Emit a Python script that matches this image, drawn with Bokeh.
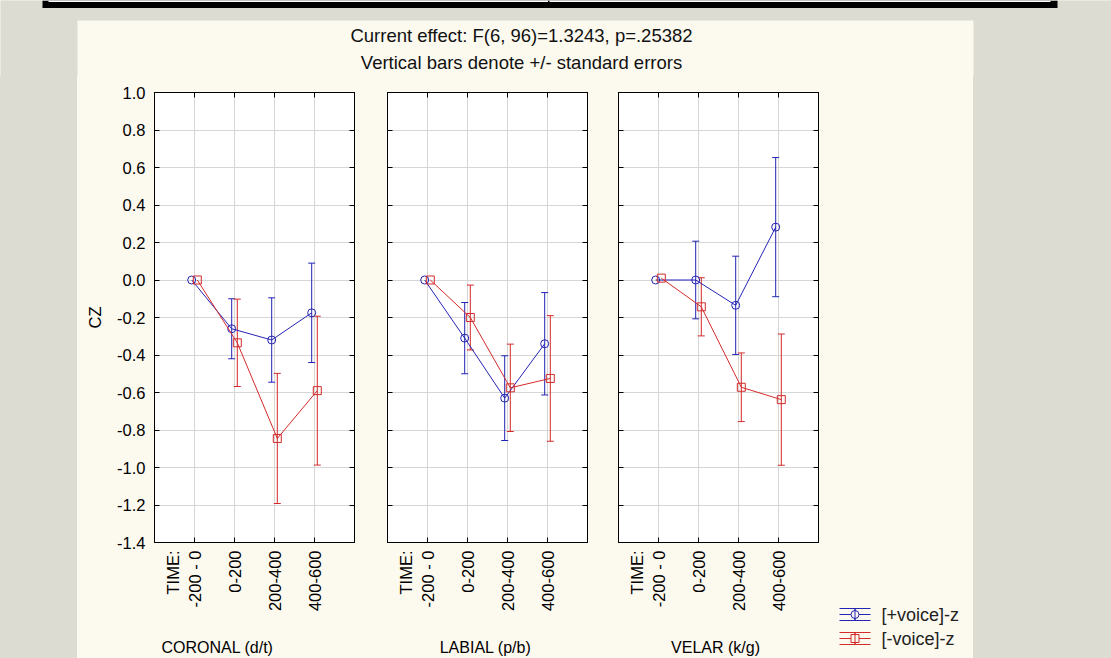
import math

from bokeh.embed import file_html
from bokeh.layouts import column, row
from bokeh.models import (ColumnDataSource, FixedTicker, Label, LinearAxis,
                          PrintfTickFormatter, Range1d, Spacer, TeeHead, Whisker)
from bokeh.plotting import figure
from bokeh.resources import INLINE

# ---------------------------------------------------------------- data
time_labels = ["TIME:\n-200 - 0", "0-200", "200-400", "400-600"]
place_labels = ["CORONAL (d/t)", "LABIAL (p/b)", "VELAR (k/g)"]
series_labels = ["[+voice]-z", "[-voice]-z"]
y_ticks = [-1.4, -1.2, -1.0, -0.8, -0.6, -0.4, -0.2, 0.0, 0.2, 0.4, 0.6, 0.8, 1.0]

coronal_plus_mean = [0.0, -0.26, -0.32, -0.175]
coronal_plus_se = [0.0, 0.16, 0.225, 0.265]
coronal_minus_mean = [0.0, -0.335, -0.845, -0.59]
coronal_minus_se = [0.0, 0.233, 0.347, 0.397]

labial_plus_mean = [0.0, -0.31, -0.63, -0.34]
labial_plus_se = [0.0, 0.19, 0.226, 0.273]
labial_minus_mean = [0.0, -0.20, -0.575, -0.525]
labial_minus_se = [0.0, 0.173, 0.233, 0.335]

velar_plus_mean = [0.0, 0.0, -0.135, 0.282]
velar_plus_se = [0.0, 0.207, 0.262, 0.371]
velar_minus_mean = [0.01, -0.143, -0.572, -0.638]
velar_minus_se = [0.0, 0.155, 0.183, 0.35]

title_lines = ["Current effect: F(6, 96)=1.3243, p=.25382",
               "Vertical bars denote +/- standard errors"]
y_label = "CZ"

# ---------------------------------------------------------------- styles
FONT = "Liberation Sans"
GRAY = "#dcdcd2"
CREAM = "#fcf9ef"
BLUE = "#2424b4"
RED = "#d42a2a"
GRID = "#d6d6d6"
COLORS = [BLUE, RED]
MARKERS = ["circle", "square"]
DODGE = 0.07

PAGE_W, PAGE_H = 1111, 658
HEAD_H = 76          # header strip (frame edge + titles)
FOOT_H = 46          # strip holding the place names
LEFT_GAP = 77        # gray margin on the left
KEY_W = 143          # legend column
PANEL_H = PAGE_H - HEAD_H - FOOT_H

panel_data = [
    (coronal_plus_mean, coronal_plus_se, coronal_minus_mean, coronal_minus_se),
    (labial_plus_mean, labial_plus_se, labial_minus_mean, labial_minus_se),
    (velar_plus_mean, velar_plus_se, velar_minus_mean, velar_minus_se),
]
# (left border, right border) of each panel, frames are 200 x 450 px
panel_borders = [(77, 16), (17, 15), (16, 12)]
# horizontal centre of each place name, page pixels
place_x = [217, 485, 715]
x_pos = [1, 2, 3, 4]


def quiet_axis(ticks):
    # tick marks only, pointing into the frame
    return LinearAxis(ticker=FixedTicker(ticks=ticks), major_tick_in=5, major_tick_out=0,
                      minor_tick_line_color=None, major_label_text_font_size="1px",
                      major_label_text_color=None, major_label_standoff=0,
                      axis_line_color="black")


def add_series(p, means, ses, shift, color, marker):
    xs = [x + shift for x in x_pos]
    src = ColumnDataSource(dict(x=xs, y=means))
    keep = [i for i, s in enumerate(ses) if s > 0]
    err = ColumnDataSource(dict(
        x=[xs[i] for i in keep],
        upper=[means[i] + ses[i] for i in keep],
        lower=[means[i] - ses[i] for i in keep]))
    p.add_layout(Whisker(source=err, base="x", upper="upper", lower="lower",
                         dimension="height", line_color=color, line_width=1,
                         upper_head=TeeHead(size=7, line_color=color, line_width=1),
                         lower_head=TeeHead(size=7, line_color=color, line_width=1)))
    p.line("x", "y", source=src, line_color=color, line_width=1)
    p.scatter("x", "y", source=src, marker=marker, size=8, fill_color=None,
              line_color=color, line_width=1)


def blank(width, height, x_range, y_range, fill=CREAM):
    f = figure(width=width, height=height, x_range=Range1d(*x_range),
               y_range=Range1d(*y_range), output_backend="svg", toolbar_location=None,
               x_axis_type=None, y_axis_type=None, min_border=0, outline_line_color=None,
               background_fill_color=fill, border_fill_color=fill)
    f.grid.visible = False
    return f


panels = []
for k, (pm, ps, mm, ms) in enumerate(panel_data):
    left, right = panel_borders[k]
    p = figure(frame_width=200, frame_height=450, x_range=Range1d(0, 5),
               y_range=Range1d(-1.4, 1.0), output_backend="svg", toolbar_location=None,
               min_border_left=left, min_border_right=right, min_border_top=16,
               min_border_bottom=PANEL_H - 16 - 450, background_fill_color="white",
               border_fill_color=CREAM, outline_line_color="black")

    overrides = {}
    for x, t in zip(x_pos, time_labels):
        # a blank trailing line keeps the two-line label left of its tick
        overrides[x] = t + "\n" if "\n" in t else t
    p.xaxis.ticker = FixedTicker(ticks=x_pos)
    p.xaxis.major_label_overrides = overrides
    p.xaxis.major_label_orientation = math.pi / 2
    p.xaxis.major_label_standoff = 8
    p.xaxis.major_label_text_font = FONT
    p.xaxis.major_label_text_font_size = "16.5px"
    p.xaxis.major_label_text_color = "black"

    p.yaxis.ticker = FixedTicker(ticks=y_ticks)
    p.yaxis.formatter = PrintfTickFormatter(format="%.1f")
    for ax in (p.xaxis, p.yaxis):
        ax.major_tick_in = 5
        ax.major_tick_out = 0
        ax.minor_tick_line_color = None
        ax.axis_line_color = "black"
    if k == 0:
        p.yaxis.major_label_standoff = 9
        p.yaxis.major_label_text_font = FONT
        p.yaxis.major_label_text_font_size = "16.5px"
        p.yaxis.major_label_text_color = "black"
        p.yaxis.axis_label = y_label
        p.yaxis.axis_label_text_font = FONT
        p.yaxis.axis_label_text_font_size = "16.5px"
        p.yaxis.axis_label_text_font_style = "normal"
        p.yaxis.axis_label_text_color = "black"
        p.yaxis.axis_label_standoff = 10
    else:
        p.yaxis.major_label_text_font_size = "1px"
        p.yaxis.major_label_text_color = None
        p.yaxis.major_label_standoff = 0

    p.add_layout(quiet_axis(y_ticks), "right")
    p.add_layout(quiet_axis(x_pos), "above")

    p.xgrid.ticker = FixedTicker(ticks=x_pos)
    p.ygrid.ticker = FixedTicker(ticks=y_ticks)
    p.grid.grid_line_color = GRID

    add_series(p, pm, ps, -DODGE, BLUE, "circle")
    add_series(p, mm, ms, DODGE, RED, "square")
    panels.append(p)

panels_w = sum(l + 200 + r for l, r in panel_borders)

# place names under the panels (page-pixel coordinates)
foot_top = HEAD_H + PANEL_H
foot = blank(panels_w, FOOT_H, (LEFT_GAP, LEFT_GAP + panels_w), (PAGE_H, foot_top))
for name, cx in zip(place_labels, place_x):
    foot.add_layout(Label(x=cx, y=645, text=name, text_align="center",
                          text_baseline="middle", text_font=FONT,
                          text_font_size="16px", text_color="black"))

# legend column (page-pixel coordinates)
key_left = LEFT_GAP + panels_w
key = blank(KEY_W, PAGE_H - HEAD_H, (key_left, key_left + KEY_W), (PAGE_H, HEAD_H))
sym_x0, sym_w, sym_h = 839, 31, 6
row_y = [614, 638]
for label, color, marker, cy in zip(series_labels, COLORS, MARKERS, row_y):
    xm = sym_x0 + sym_w / 2
    key.segment(x0=[sym_x0] * 3 + [xm], x1=[sym_x0 + sym_w] * 3 + [xm],
                y0=[cy - sym_h, cy, cy + sym_h, cy - sym_h],
                y1=[cy - sym_h, cy, cy + sym_h, cy + sym_h],
                line_color=color, line_width=1)
    key.scatter(x=[xm], y=[cy], marker=marker, size=8, fill_color=CREAM,
                line_color=color, line_width=1)
    key.segment(x0=[xm], x1=[xm], y0=[cy - sym_h], y1=[cy + sym_h],
                line_color=color, line_width=1)
    key.add_layout(Label(x=sym_x0 + sym_w + 11, y=cy, text=label, text_align="left",
                         text_baseline="middle", text_font=FONT,
                         text_font_size="18px", text_color="#222222"))

# header strip with the frame edge and the two title lines
head = blank(PAGE_W, HEAD_H, (0, PAGE_W), (HEAD_H, 0), fill=GRAY)
head.quad(left=[42], right=[1057], top=[0], bottom=[7.5], fill_color="black",
          line_color=None)
head.quad(left=[48], right=[1050], top=[0], bottom=[1.5], fill_color="white",
          line_color=None)
head.quad(left=[547.5], right=[549], top=[0], bottom=[1.5], fill_color="black",
          line_color=None)
head.quad(left=[LEFT_GAP], right=[key_left + KEY_W], top=[20], bottom=[HEAD_H],
          fill_color=CREAM, line_color=None)
for txt, yy in zip(title_lines, [35, 62]):
    head.add_layout(Label(x=521, y=yy, text=txt, text_align="center",
                          text_baseline="middle", text_font=FONT,
                          text_font_size="18.5px", text_color="#111111"))

right_gap = PAGE_W - key_left - KEY_W
body = row(Spacer(width=LEFT_GAP, height=PAGE_H - HEAD_H,
                  styles={"background-color": GRAY}),
           column(row(*panels, spacing=0, styles={"background-color": CREAM}), foot,
                  spacing=0, styles={"background-color": CREAM}),
           key,
           Spacer(width=right_gap, height=PAGE_H - HEAD_H,
                  styles={"background-color": GRAY}),
           spacing=0, styles={"background-color": CREAM})
page = column(head, body, spacing=0, styles={"background-color": CREAM})

open("out.html", "w").write(file_html(page, INLINE))
